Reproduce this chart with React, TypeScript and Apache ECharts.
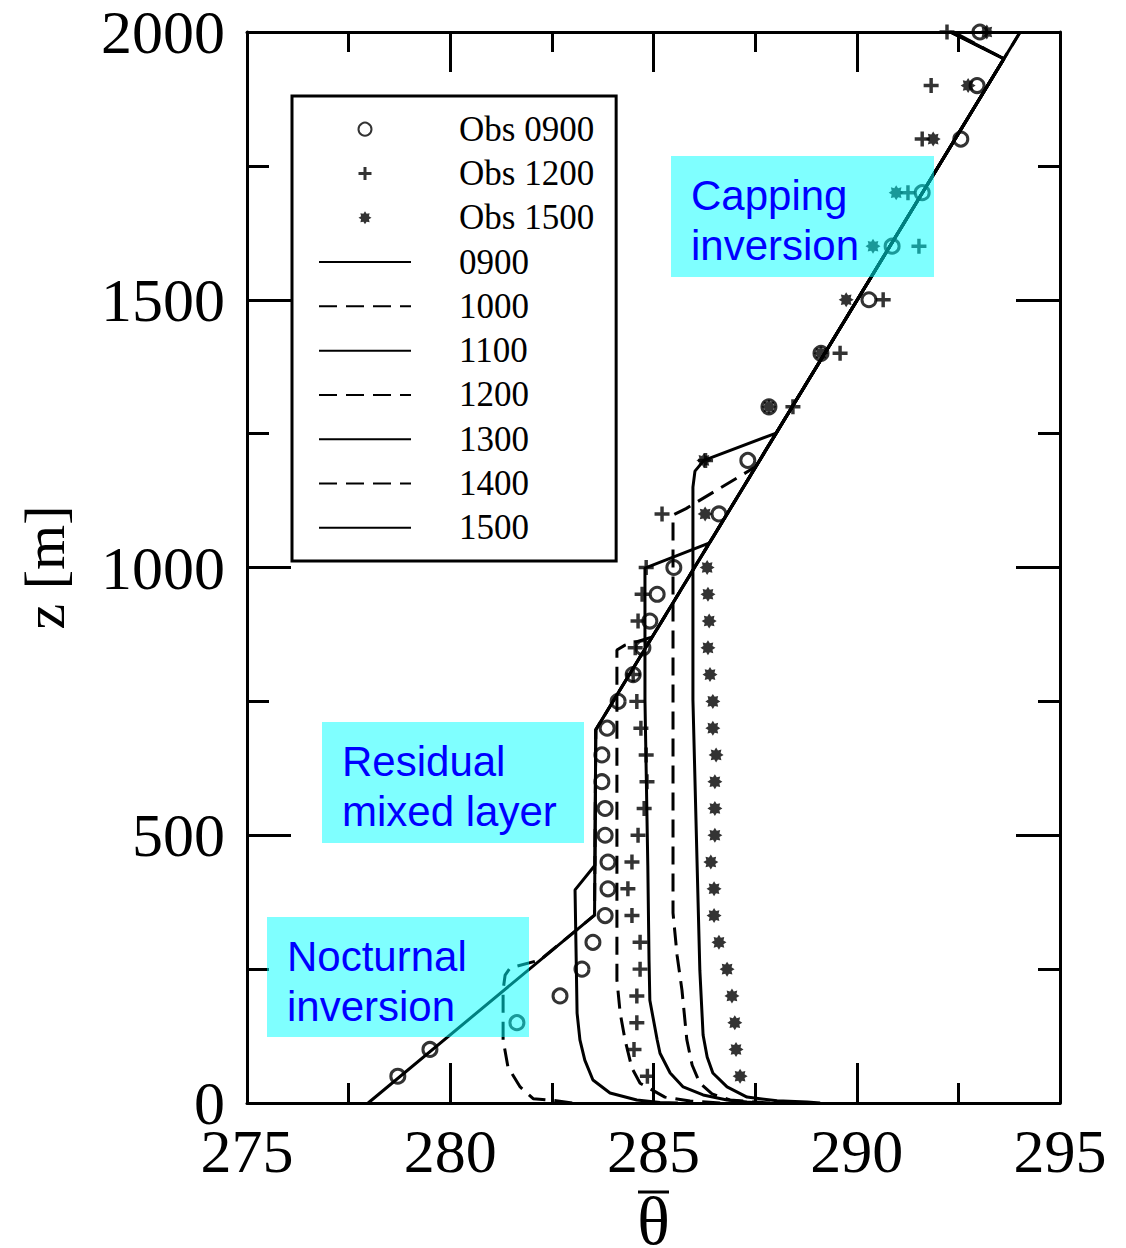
import React, { useEffect, useRef } from "react";
import * as echarts from "echarts";

// Observation heights (m)
const zObs = [50, 100, 150, 200, 250, 300, 350, 400, 450, 500, 550, 600, 650, 700, 750, 800, 850, 900, 950, 1000,
  1100, 1200, 1300, 1400, 1500, 1600, 1700, 1800, 1900, 2000];

const obs0900 = [278.71, 279.50, 281.64, 282.70, 283.24, 283.51, 283.81, 283.88, 283.88, 283.81, 283.81, 283.73, 283.73, 283.86, 284.13,
  284.50, 284.74, 284.91, 285.09, 285.50, 286.61, 287.32, 287.84, 289.12, 290.30, 290.87, 291.61, 292.56, 292.96, 293.03];
const obs1200 = [284.85, 284.52, 284.59, 284.59, 284.67, 284.67, 284.47, 284.37, 284.47, 284.62, 284.77, 284.84, 284.82, 284.69, 284.59,
  284.50, 284.55, 284.62, 284.72, 284.82, 285.21, 286.28, 288.43, 289.59, 290.65, 291.53, 291.26, 291.61, 291.83, 292.22];
const obs1500 = [287.13, 287.03, 287.00, 286.93, 286.81, 286.61, 286.49, 286.49, 286.41, 286.51, 286.51, 286.51, 286.54, 286.46, 286.46,
  286.39, 286.34, 286.37, 286.34, 286.32, 286.27, 286.24, 287.84, 289.12, 289.74, 290.40, 290.97, 291.88, 292.74, 293.20];

// Model profiles [theta, z]
const model0900 = [[277.98, 0], [283.55, 351], [283.58, 697], [293.62, 1950], [294.02, 2000]];
const model1000 = [[283.0, 0], [282.53, 5], [282.04, 8], [281.72, 30], [281.42, 67], [281.30, 118], [281.30, 211], [281.35, 239],
  [281.47, 252], [282.21, 267], [283.55, 351], [283.58, 697], [293.62, 1950], [294.02, 2000]];
const model1100 = [[285.6, 0], [285.16, 1], [284.59, 5.6], [283.93, 18.7], [283.51, 43], [283.31, 80], [283.19, 118], [283.12, 168],
  [283.07, 398], [283.56, 444], [283.58, 697], [293.62, 1950], [292.3, 2000]];
const model1200 = [[286.64, 0], [285.9, 3.7], [285.28, 11], [284.67, 37], [284.47, 65], [284.30, 118], [284.18, 168], [284.10, 230],
  [284.10, 846], [284.30, 855], [284.97, 870], [293.62, 1950], [292.5, 1995]];
const model1300 = [[287.62, 0], [287.30, 2], [286.81, 5.6], [286.22, 15], [285.73, 30], [285.41, 56], [285.16, 93], [285.09, 118],
  [284.91, 192], [284.89, 267], [284.86, 444], [284.79, 753], [284.79, 999], [286.38, 1046], [293.62, 1950], [292.3, 2000]];
const model1400 = [[287.87, 0], [286.88, 5.6], [286.44, 17], [286.14, 37], [285.95, 71], [285.82, 118], [285.70, 211], [285.58, 276],
  [285.48, 355], [285.48, 1098], [285.80, 1110], [287.51, 1188], [293.62, 1950], [292.6, 1990]];
const model1500 = [[289.10, 0], [288.78, 2], [288.04, 4], [287.30, 11], [286.81, 30], [286.46, 56], [286.32, 86], [286.22, 127],
  [286.14, 248], [286.07, 454], [285.97, 753], [285.97, 1150], [286.02, 1180], [286.24, 1200], [288.02, 1251], [293.62, 1950], [292.3, 2000]];

const modelNames = ["0900", "1000", "1100", "1200", "1300", "1400", "1500"];
const modelData = [model0900, model1000, model1100, model1200, model1300, model1400, model1500];
const modelDashed = [false, true, false, true, false, true, false];

const xTicks = { min: 275, max: 295, interval: 5 };
const yTicks = { min: 0, max: 2000, interval: 500 };

const annotations = [
  { text: "Capping\ninversion", x: 671, y: 156, w: 263, h: 121 },
  { text: "Residual\nmixed layer", x: 322, y: 722, w: 262, h: 121 },
  { text: "Nocturnal\ninversion", x: 267, y: 917, w: 262, h: 120 },
];

function asteriskPath() {
  const pts: string[] = [];
  for (let k = 0; k < 16; k++) {
    const a = (k * Math.PI) / 8 - Math.PI / 2;
    const r = k % 2 === 0 ? 10 : 6.5;
    pts.push(`${(10 + r * Math.cos(a)).toFixed(2)},${(10 + r * Math.sin(a)).toFixed(2)}`);
  }
  return "path://M" + pts.join("L") + "Z";
}
const PLUS = "path://M5,0H8V5H13V8H8V13H5V8H0V5H5Z";

const SERIF = "Liberation Serif";

export default function App() {
  const ref = useRef<HTMLDivElement>(null);
  useEffect(() => {
    document.body.style.margin = "0";
    const chart = echarts.init(ref.current!, null, { renderer: "svg" });
    const axisCommon = (tickLen: number) => ({
      axisLine: { show: true, onZero: false, lineStyle: { color: "#000", width: 3 } },
      axisTick: { show: true, inside: true, length: tickLen, lineStyle: { color: "#000", width: 3 } },
      minorTick: { show: true, splitNumber: 2, length: tickLen / 2, lineStyle: { color: "#000", width: 3 } },
      splitLine: { show: false },
      minorSplitLine: { show: false },
    });
    const series: any[] = [
      {
        name: "Obs 0900", type: "scatter", clip: false, symbol: "circle", symbolSize: 14, z: 5,
        itemStyle: { color: "rgba(0,0,0,0)", borderColor: "#000", borderWidth: 3 },
        data: zObs.map((z, i) => [obs0900[i], z]),
      },
      {
        name: "Obs 1200", type: "scatter", clip: false, symbol: PLUS, symbolSize: 15, z: 5,
        itemStyle: { color: "#000" },
        data: zObs.map((z, i) => [obs1200[i], z]),
      },
      {
        name: "Obs 1500", type: "scatter", clip: false, symbol: asteriskPath(), symbolSize: 15, z: 5,
        itemStyle: { color: "#000" },
        data: zObs.map((z, i) => [obs1500[i], z]),
      },
    ];
    modelNames.forEach((n, i) => {
      series.push({
        name: n, type: "line", symbol: "none", showSymbol: false, clip: false, z: 3,
        lineStyle: { color: "#000", width: 3, type: modelDashed[i] ? [18, 9] : "solid" },
        itemStyle: { color: "#000" },
        data: modelData[i],
      });
    });
    const graphic: any[] = [];
    annotations.forEach((a) => {
      graphic.push({
        type: "rect", z: 100, shape: { x: a.x, y: a.y, width: a.w, height: a.h },
        style: { fill: "rgba(0,255,255,0.5)" },
      });
      graphic.push({
        type: "text", z: 101, x: a.x + 20, y: a.y + 14,
        style: { text: a.text, font: '42px "Liberation Sans"', fill: "#0000ff", lineHeight: 50, verticalAlign: "top" },
      });
    });
    // overbar of the x-axis symbol
    graphic.push({
      type: "line", z: 101, shape: { x1: 638, y1: 1192, x2: 669, y2: 1192 },
      style: { stroke: "#000", lineWidth: 3 },
    });
    chart.setOption({
      animation: false,
      backgroundColor: "#fff",
      grid: { left: 247, top: 32, right: 66, bottom: 145, containLabel: false, outerBoundsMode: "none" },
      legend: {
        orient: "vertical", left: 292, top: 96, selectedMode: false,
        itemWidth: 92, itemHeight: 13, itemGap: 0,
        backgroundColor: "#fff", borderColor: "#000", borderWidth: 3,
        padding: [11, 22, 11, 26],
        textStyle: { fontFamily: SERIF, fontSize: 35, color: "#000", lineHeight: 44.3, padding: [0, 0, 0, 43] },
        data: [
          "Obs 0900", "Obs 1200", "Obs 1500",
          ...modelNames.map((n) => ({ name: n, itemStyle: { opacity: 0 } })),
        ],
      },
      xAxis: [
        {
          type: "value", position: "bottom", ...xTicks, ...axisCommon(40),
          axisLabel: { fontFamily: SERIF, fontSize: 62, color: "#000", margin: 17, formatter: (v: number) => String(v) },
          name: "θ", nameLocation: "middle", nameGap: 86,
          nameTextStyle: { fontFamily: SERIF, fontSize: 68, color: "#000", lineHeight: 56 },
        },
        {
          type: "value", position: "top", ...xTicks, ...axisCommon(40),
          axisLabel: { show: false },
        },
      ],
      yAxis: [
        {
          type: "value", position: "left", ...yTicks, ...axisCommon(44),
          axisLabel: { fontFamily: SERIF, fontSize: 62, color: "#000", margin: 22, lineHeight: 56, formatter: (v: number) => String(v) },
          name: "z [m]", nameLocation: "middle", nameGap: 174, nameRotate: 90,
          nameTextStyle: { fontFamily: SERIF, fontSize: 58, color: "#000" },
        },
        {
          type: "value", position: "right", ...yTicks, ...axisCommon(44),
          axisLabel: { show: false },
        },
      ],
      series,
      graphic,
    });
    return () => chart.dispose();
  }, []);
  return <div ref={ref} style={{ width: 1126, height: 1248 }} />;
}
